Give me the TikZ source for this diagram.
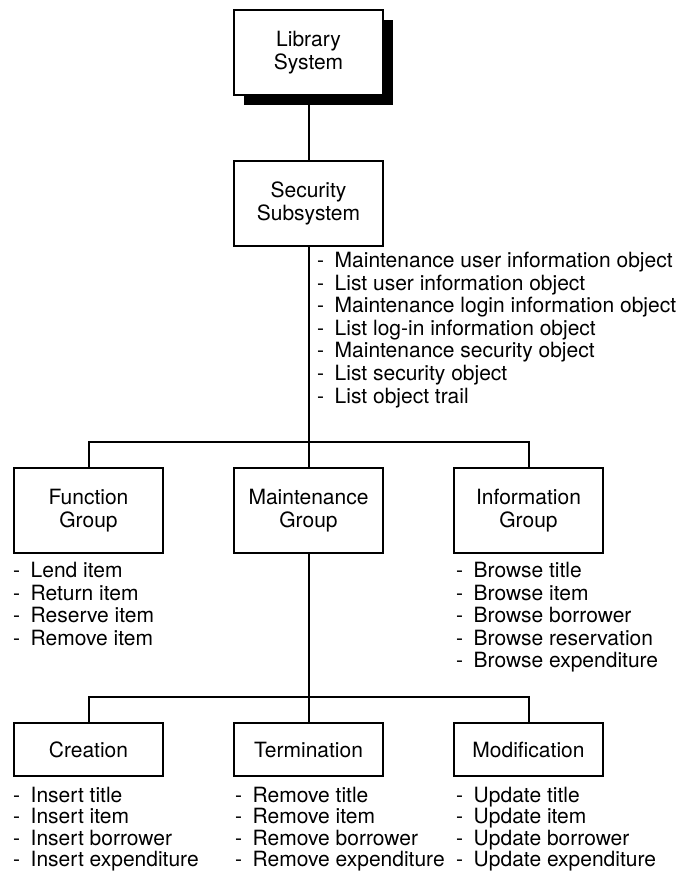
\documentclass[tikz,border=0pt]{standalone}
\usepackage{fontspec}
\setmainfont{TeX Gyre Heros}
\usetikzlibrary{shadows}

\newcommand{\itm}[1]{\makebox[17.5pt][l]{-}#1}

\begin{document}
\begin{tikzpicture}[
    x=1pt, y=-1pt,
    font=\fontsize{21}{22.6}\selectfont,
    box/.style={draw, line width=2pt, fill=white, minimum width=149pt, minimum height=85pt, align=center, inner sep=0pt},
    flatbox/.style={box, minimum height=53pt},
    shadowbox/.style={box, drop shadow={shadow xshift=10pt, shadow yshift=-10pt, fill=black, opacity=1}},
    list/.style={anchor=north west, align=left, inner sep=0pt},
    shortlist/.style={list, font=\fontsize{21}{21.3}\selectfont},
    link/.style={line width=2pt}
]
\useasboundingbox (0,0) rectangle (676,873);

% Top of the hierarchy
\node[shadowbox] (lib) at (308.5, 52.5) {Library\\System};
\node[box] (sec) at (308.5, 203.5) {Security\\Subsystem};

% Group nodes
\node[box] (func) at (88.5, 510.5) {Function\\Group};
\node[box] (maint) at (308.5, 510.5) {Maintenance\\Group};
\node[box] (info) at (528.5, 510.5) {Information\\Group};

% Maintenance sub-nodes
\node[flatbox] (crea) at (88.5, 749.5) {Creation};
\node[flatbox] (term) at (308.5, 749.5) {Termination};
\node[flatbox] (modi) at (528.5, 749.5) {Modification};

% Function lists
\node[list] (seclist) at (317, 252) {\itm{Maintenance user information object}\\
  \itm{List user information object}\\
  \itm{Maintenance login information object}\\
  \itm{List log-in information object}\\
  \itm{Maintenance security object}\\
  \itm{List security object}\\
  \itm{List object trail}};
\node[list] (funclist) at (13, 562) {\itm{Lend item}\\\itm{Return item}\\
  \itm{Reserve item}\\\itm{Remove item}};
\node[list] (infolist) at (456, 562) {\itm{Browse title}\\\itm{Browse item}\\
  \itm{Browse borrower}\\\itm{Browse reservation}\\\itm{Browse expenditure}};
\node[shortlist] (crealist) at (13, 787) {\itm{Insert title}\\\itm{Insert item}\\
  \itm{Insert borrower}\\\itm{Insert expenditure}};
\node[shortlist] (termlist) at (235, 787) {\itm{Remove title}\\\itm{Remove item}\\
  \itm{Remove borrower}\\\itm{Remove expenditure}};
\node[shortlist] (modilist) at (456, 787) {\itm{Update title}\\\itm{Update item}\\
  \itm{Update borrower}\\\itm{Update expenditure}};

% Connecting lines
\coordinate (bus1) at (308.5, 442);
\coordinate (bus2) at (308.5, 697);
\draw[link] (lib) -- (sec);
\draw[link] (sec) -- (maint);
\draw[link] (func.north) |- (bus1) -| (info.north);
\draw[link] (maint) -- (term);
\draw[link] (crea.north) |- (bus2) -| (modi.north);

\end{tikzpicture}
\end{document}
